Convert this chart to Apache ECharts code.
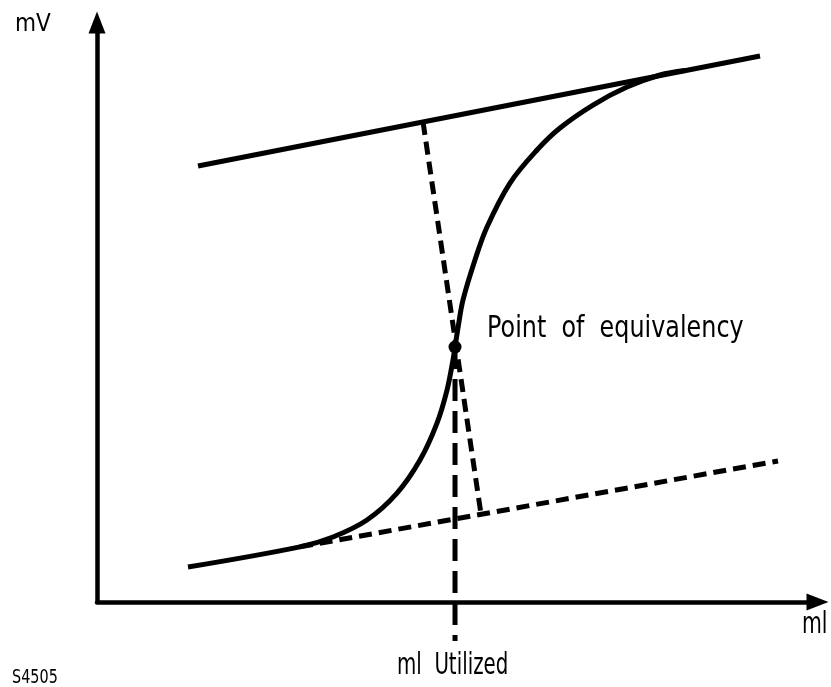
<!DOCTYPE html>
<html>
<head>
<meta charset="utf-8">
<script src="https://cdn.jsdelivr.net/npm/echarts@6/dist/echarts.min.js"></script>
<style>
  html, body { margin: 0; padding: 0; background: #fff; }
  #chart { width: 831px; height: 687px; }
</style>
</head>
<body>
<div id="chart"></div>
<script>
  // titration curve (ml, mV)
  var curve = [
    [1.263, 30.2], [2.817, 47.6], [3.275, 56.1], [3.747, 70.8], [4.164, 94.0],
    [4.483, 122.5], [4.719, 154.4], [4.858, 182.9], [4.941, 208.8], [4.969, 220.0],
    [5.010, 236.4], [5.080, 260.6], [5.246, 295.1], [5.413, 323.6], [5.732, 361.5],
    [6.107, 390.0], [6.426, 409.0], [6.884, 428.8], [7.356, 444.3], [7.814, 454.7],
    [8.161, 458.5]
  ];
  var upperTangent = [[1.402, 376.2], [9.202, 471.1]];
  var lowerTangent = [[2.817, 47.6], [9.452, 121.7]];
  var connector = [[4.525, 414.2], [5.330, 75.6]];
  var equivPoint = [[4.969, 220.0]];
  var equivDrop = [[4.969, 220.0], [4.969, -33.6]];

  var chart = echarts.init(document.getElementById('chart'));
  var font = '"DejaVu Sans", sans-serif';

  chart.setOption({
    animation: false,
    grid: { left: 97, right: 13.5, top: 22.5, bottom: 85 },
    xAxis: {
      type: 'value', min: 0, max: 10,
      axisLine: { lineStyle: { color: '#000', width: 4.5 }, symbol: ['none', 'triangle'], symbolSize: [17, 22] },
      axisTick: { show: false }, axisLabel: { show: false }, splitLine: { show: false }
    },
    yAxis: {
      type: 'value', min: 0, max: 500,
      axisLine: { show: true, lineStyle: { color: '#000', width: 4.5 }, symbol: ['none', 'triangle'], symbolSize: [17, 22] },
      axisTick: { show: false }, axisLabel: { show: false }, splitLine: { show: false }
    },
    series: [
      {
        type: 'line', data: upperTangent, showSymbol: false, clip: false,
        lineStyle: { color: '#000', width: 5 }
      },
      {
        type: 'line', data: lowerTangent, showSymbol: false, clip: false,
        lineStyle: { color: '#000', width: 5, type: [13, 7] }
      },
      {
        type: 'line', data: connector, showSymbol: false, clip: false,
        lineStyle: { color: '#000', width: 5, type: [13, 7] }
      },
      {
        type: 'line', data: equivDrop, showSymbol: false, clip: false,
        lineStyle: { color: '#000', width: 5, type: [22, 10] }
      },
      {
        type: 'line', data: curve, showSymbol: false, clip: false, smooth: 0.35,
        lineStyle: { color: '#000', width: 5 }
      },
      {
        type: 'scatter', data: equivPoint, symbolSize: 13, clip: false, z: 5,
        itemStyle: { color: '#000', opacity: 1 }
      }
    ],
    graphic: [
      { type: 'text', x: 15, y: 13, scaleX: 0.9, style: { text: 'mV', font: '24px ' + font, fill: '#000' } },
      { type: 'text', x: 802, y: 610, scaleX: 0.68, style: { text: 'ml', font: '30px ' + font, fill: '#000' } },
      { type: 'text', x: 487, y: 313, scaleX: 0.77, style: { text: 'Point  of  equivalency', font: '31px ' + font, fill: '#000' } },
      { type: 'text', x: 397, y: 651, scaleX: 0.66, style: { text: 'ml  Utilized', font: '30px ' + font, fill: '#000' } },
      { type: 'text', x: 12, y: 668, scaleX: 0.72, style: { text: 'S4505', font: '20px ' + font, fill: '#000' } }
    ]
  });
</script>
</body>
</html>
